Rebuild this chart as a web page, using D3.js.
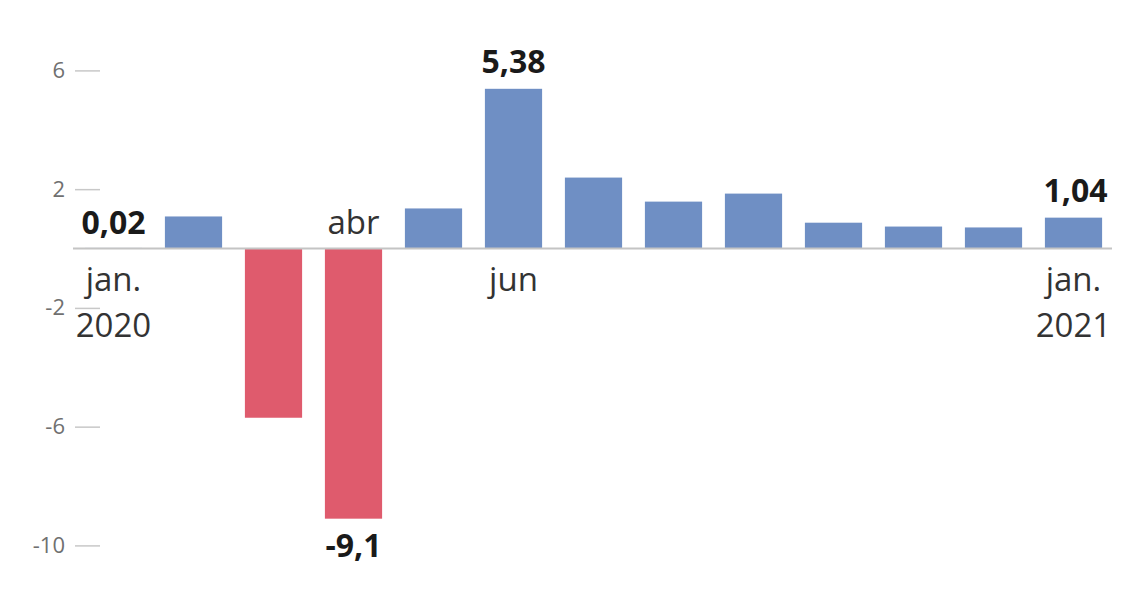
<!DOCTYPE html>
<html>
<head>
<meta charset="utf-8">
<script src="https://cdn.jsdelivr.net/npm/d3@7"></script>
<style>
  body { margin: 0; background: #fff; }
  svg { font-family: "Open Sans", sans-serif; }
</style>
</head>
<body>
<div id="chart-area"></div>
<script>
// monthly change, jan 2020 .. jan 2021
const months = ['2020-01', '2020-02', '2020-03', '2020-04', '2020-05', '2020-06', '2020-07',
  '2020-08', '2020-09', '2020-10', '2020-11', '2020-12', '2021-01'];
const values = [0.02, 1.08, -5.7, -9.1, 1.35, 5.38, 2.39, 1.58, 1.85, 0.87, 0.74, 0.71, 1.04];
const yTicks = [6, 2, -2, -6, -10];
// highlighted values (bold) and month names
const valueLabels = [
  { month: '2020-01', text: '0,02' },
  { month: '2020-04', text: '-9,1' },
  { month: '2020-06', text: '5,38' },
  { month: '2021-01', text: '1,04' }
];
const monthLabels = [
  { month: '2020-01', lines: ['jan.', '2020'] },
  { month: '2020-04', lines: ['abr'] },
  { month: '2020-06', lines: ['jun'] },
  { month: '2021-01', lines: ['jan.', '2021'] }
];

const width = 1128, height = 612;
const svg = d3.select('#chart-area')
  .append('svg')
  .attr('width', width)
  .attr('height', height);

const data = months.map((m, i) => ({ month: m, value: values[i] }));

const x = d3.scaleBand()
  .domain(months)
  .range([73.5, 1113.5])
  .paddingInner(0.285)
  .paddingOuter(0.1425);

const y = d3.scaleLinear()
  .domain([6, -10])
  .range([70.4, 545.4]);

// y axis (ticks only)
const yAxis = svg.append('g')
  .attr('transform', 'translate(100,0)')
  .call(d3.axisLeft(y).tickValues(yTicks).tickSize(25).tickPadding(10)
    .tickFormat(d => String(d))); // plain hyphen, like the original
yAxis.select('.domain').remove();
yAxis.selectAll('.tick line').attr('stroke', '#c8c8c8').attr('stroke-width', 1.5);
yAxis.selectAll('.tick text')
  .attr('fill', '#707070')
  .attr('font-size', '22px')
  .attr('font-family', '"Open Sans", sans-serif');

// bars
svg.selectAll('rect.bar')
  .data(data)
  .enter()
  .append('rect')
  .attr('class', 'bar')
  .attr('x', d => x(d.month))
  .attr('width', x.bandwidth())
  .attr('y', d => y(Math.max(0, d.value)))
  .attr('height', d => Math.abs(y(d.value) - y(0)))
  .attr('fill', d => d.value < 0 ? '#df5b6d' : '#6f8fc4');

// zero line
svg.append('line')
  .attr('x1', 73).attr('x2', 1112)
  .attr('y1', y(0)).attr('y2', y(0))
  .attr('stroke', '#c4c4c4')
  .attr('stroke-width', 2);

const valueOf = m => values[months.indexOf(m)];
const cx = m => x(m) + x.bandwidth() / 2;

// bold value labels
svg.selectAll('text.val')
  .data(valueLabels)
  .enter()
  .append('text')
  .attr('class', 'val')
  .attr('x', d => cx(d.month) + (d.month === '2021-01' ? 2 : 0))
  .attr('y', d => {
    const v = valueOf(d.month);
    if (v < 0) return y(v) + 38;
    if (d.month === '2020-01') return y(0) - 15;
    return y(v) - 16;
  })
  .attr('text-anchor', 'middle')
  .attr('font-size', '32px')
  .attr('font-weight', 'bold')
  .attr('fill', '#1a1a1a')
  .text(d => d.text);

// month labels
monthLabels.forEach(d => {
  const above = d.month === '2020-04';
  const t = svg.append('text')
    .attr('text-anchor', 'middle')
    .attr('font-size', '33px')
    .attr('fill', '#333')
    .attr('y', above ? y(0) - 15 : y(0) + 42);
  d.lines.forEach((line, i) => {
    t.append('tspan')
      .attr('x', cx(d.month))
      .attr('dy', i === 0 ? 0 : 46)
      .text(line);
  });
});
</script>
</body>
</html>
